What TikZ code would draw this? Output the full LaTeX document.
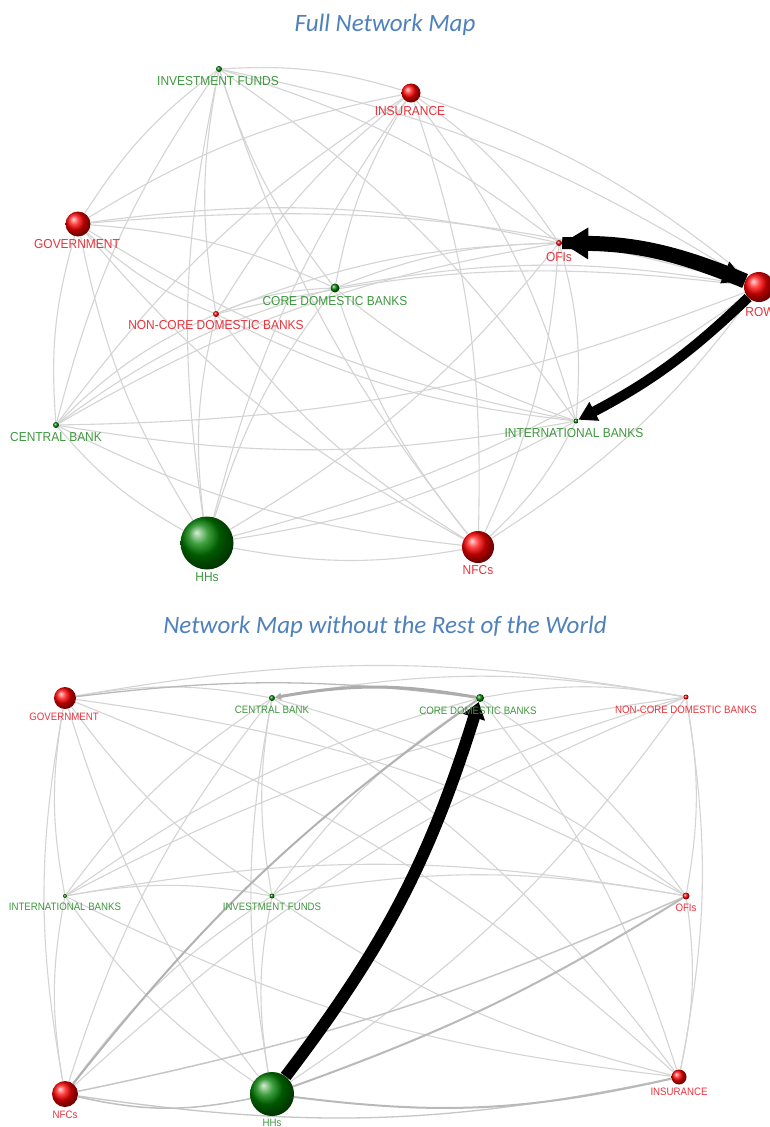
\documentclass[tikz,border=0pt]{standalone}
\usepackage{fontspec}
\setmainfont{Liberation Sans}
\newfontfamily\ttlfont{Carlito}
\newfontfamily\tlabf[FakeStretch=0.92]{Liberation Sans}
\newfontfamily\blabf[FakeStretch=0.9]{Liberation Sans}
\usetikzlibrary{arrows.meta,calc}
\pgfdeclarelayer{bg}
\pgfsetlayers{bg,main}
\definecolor{ttl}{RGB}{79,129,189}
\definecolor{lgreen}{RGB}{62,152,62}
\definecolor{lred}{RGB}{232,52,62}
\definecolor{edgecol}{RGB}{212,212,212}
\newcommand\bnd{10}
\newcommand\ed[4][]{\draw[lite,#1] let \p1=(#3.center), \p2=(#4.center), \p3=(#2),
  \n1={((\x2-\x1)/100)*((\y3-\y1)/100)-((\y2-\y1)/100)*((\x3-\x1)/100)},
  \n2={(\n1>0)?(-\bnd):(\bnd)} in (#3) to[bend left=\n2] (#4);}
\begin{document}
\begin{tikzpicture}[x=1pt,y=-1pt,
 sph/.style={circle,inner sep=0pt,minimum size=#1},
 rs/.style={sph=#1,ball color=red},
 gs/.style={sph=#1,ball color=green!50!black},
 tl/.style={font=\tlabf\fontsize{13}{14}\selectfont,inner sep=0pt},
 bl/.style={font=\blabf\fontsize{10.75}{12}\selectfont,inner sep=0pt},
 gt/.style={text=lgreen}, rt/.style={text=lred},
 lite/.style={draw=edgecol,line width=1.1pt},
 medium/.style={draw=gray!#1},
 heavy/.style={draw=black,line width=#1},
 ttlst/.style={font=\ttlfont\itshape\fontsize{25}{30}\selectfont,text=ttl,anchor=base,inner sep=0pt}]
\useasboundingbox (0,0) rectangle (769,1127);
% titles
\node[ttlst] (t1) at (385,31) {Full Network Map};
\node[ttlst] (t2) at (385,633) {Network Map without the Rest of the World};
% ---------- top map ----------
\coordinate (tc) at (400,320);
\node[gs=6] (tIF) at (219,69) {};
\node[rs=19] (tINS) at (411,93) {};
\node[rs=25] (tGOV) at (78,224) {};
\node[rs=6] (tOFI) at (559,243) {};
\node[rs=30] (tROW) at (759,287) {};
\node[gs=9] (tCDB) at (335,288) {};
\node[rs=6] (tNCDB) at (216,314) {};
\node[gs=6] (tCB) at (56,425) {};
\node[gs=5] (tIB) at (576,421) {};
\node[gs=53] (tHH) at (207,543) {};
\node[rs=32] (tNFC) at (478,547) {};
\node[tl,gt] (ltIF) at (218,81) {INVESTMENT FUNDS};
\node[tl,rt] (ltINS) at (410,111) {INSURANCE};
\node[tl,rt] (ltGOV) at (77,244) {GOVERNMENT};
\node[tl,rt] (ltOFI) at (559,257) {OFIs};
\node[tl,rt] (ltROW) at (760,312) {ROW};
\node[tl,gt] (ltCDB) at (335,301.5) {CORE DOMESTIC BANKS};
\node[tl,rt] (ltNCDB) at (216,325) {NON-CORE DOMESTIC BANKS};
\node[tl,gt] (ltCB) at (56,437) {CENTRAL BANK};
\node[tl,gt] (ltIB) at (574,433) {INTERNATIONAL BANKS};
\node[tl,gt] (ltHH) at (207,577) {HHs};
\node[tl,rt] (ltNFC) at (478,570) {NFCs};
% ---------- bottom map ----------
\coordinate (bc) at (375,896);
\node[rs=22] (bGOV) at (65,698) {};
\node[gs=6] (bCB) at (272,698) {};
\node[gs=8] (bCDB) at (480,698) {};
\node[rs=5] (bNCDB) at (686,697) {};
\node[gs=4] (bIB) at (65,896) {};
\node[gs=5] (bIF) at (272,896) {};
\node[rs=7] (bOFI) at (686,896) {};
\node[rs=26] (bNFC) at (65,1094) {};
\node[gs=44] (bHH) at (272,1094) {};
\node[rs=15] (bINS) at (679,1077) {};
\node[bl,rt] (lbGOV) at (64,717) {GOVERNMENT};
\node[bl,gt] (lbCB) at (272,710) {CENTRAL BANK};
\node[bl,gt] (lbCDB) at (478,710.5) {CORE DOMESTIC BANKS};
\node[bl,rt] (lbNCDB) at (686,710) {NON-CORE DOMESTIC BANKS};
\node[bl,gt] (lbIB) at (65,907) {INTERNATIONAL BANKS};
\node[bl,gt] (lbIF) at (272,907) {INVESTMENT FUNDS};
\node[bl,rt] (lbOFI) at (686,908) {OFIs};
\node[bl,rt] (lbNFC) at (65,1115) {NFCs};
\node[bl,gt] (lbHH) at (272,1123) {HHs};
\node[bl,rt] (lbINS) at (679,1092) {INSURANCE};
\begin{pgfonlayer}{bg}
\fill[white] (0,0) rectangle (769,1127);
% top light edges
\foreach \a/\b in {tIF/tINS, tIF/tGOV, tIF/tOFI, tIF/tROW, tIF/tCDB, tIF/tNCDB, tIF/tCB, tIF/tIB, tIF/tHH, tIF/tNFC,
 tINS/tGOV, tINS/tOFI, tINS/tROW, tINS/tCDB, tINS/tNCDB, tINS/tCB, tINS/tIB, tINS/tHH, tINS/tNFC,
 tGOV/tOFI, tGOV/tROW, tGOV/tCDB, tGOV/tNCDB, tGOV/tCB, tGOV/tIB, tGOV/tHH, tGOV/tNFC,
 tOFI/tCDB, tOFI/tNCDB, tOFI/tCB, tOFI/tIB, tOFI/tHH, tOFI/tNFC,
 tROW/tCDB, tROW/tNCDB, tROW/tCB, tROW/tHH, tROW/tNFC,
 tCDB/tNCDB, tCDB/tCB, tCDB/tIB, tCDB/tHH, tCDB/tNFC,
 tNCDB/tCB, tNCDB/tIB, tNCDB/tHH, tNCDB/tNFC,
 tCB/tIB, tCB/tHH, tCB/tNFC, tIB/tHH, tIB/tNFC, tHH/tNFC}
 {\ed{tc}{\a}{\b}}
% bottom light edges
\foreach \a/\b in {bGOV/bCB, bGOV/bNCDB, bGOV/bIB, bGOV/bIF, bGOV/bOFI, bGOV/bNFC, bGOV/bHH, bGOV/bINS,
 bCB/bNCDB, bCB/bIB, bCB/bIF, bCB/bOFI, bCB/bNFC, bCB/bHH, bCB/bINS,
 bCDB/bNCDB, bCDB/bIB, bCDB/bIF, bCDB/bOFI, bCDB/bINS,
 bNCDB/bIB, bNCDB/bIF, bNCDB/bOFI, bNCDB/bNFC, bNCDB/bHH, bNCDB/bINS,
 bIB/bIF, bIB/bOFI, bIB/bNFC, bIB/bHH, bIB/bINS,
 bIF/bOFI, bIF/bNFC, bIF/bHH, bIF/bINS, bOFI/bINS}
 {\ed{bc}{\a}{\b}}
% bottom medium edges
\draw[medium=45,line width=1.3pt] (bNFC) to[bend right=10] (bINS);
\draw[medium=50,line width=1.5pt] (bNFC) to[bend right=12] (bHH);
\draw[medium=45,line width=1.5pt] (bNFC) to[bend right=6] (bOFI);
\draw[medium=55,line width=2pt] (bHH) to[bend right=6] (bOFI);
\draw[medium=55,line width=2pt] (bHH) to[bend right=10] (bINS);
\draw[medium=55,line width=1.3pt] (bGOV) to[bend left=7] (bCDB);
\draw[medium=60,line width=2pt] (bNFC) to[bend left=8] (bCDB);
\draw[medium=65,line width=3pt,-{Triangle[width=7pt,length=6pt]}] (bCDB) to[bend right=10] (bCB);
% heavy edges
\draw[heavy=15pt,-{Triangle[width=30pt,length=26pt]}] (tROW) to[bend right=11] (tOFI);
\draw[heavy=12pt,-{Triangle[width=22pt,length=22pt]}] (tOFI) to[bend left=11] (tROW);
\draw[heavy=10pt,-{Triangle[width=20pt,length=18pt]}] (tROW) to[bend left=8] (tIB);
\draw[heavy=12pt,-{Triangle[width=22pt,length=16pt]}] (bHH) to[bend right=10] (bCDB);
\end{pgfonlayer}
\end{tikzpicture}
\end{document}
